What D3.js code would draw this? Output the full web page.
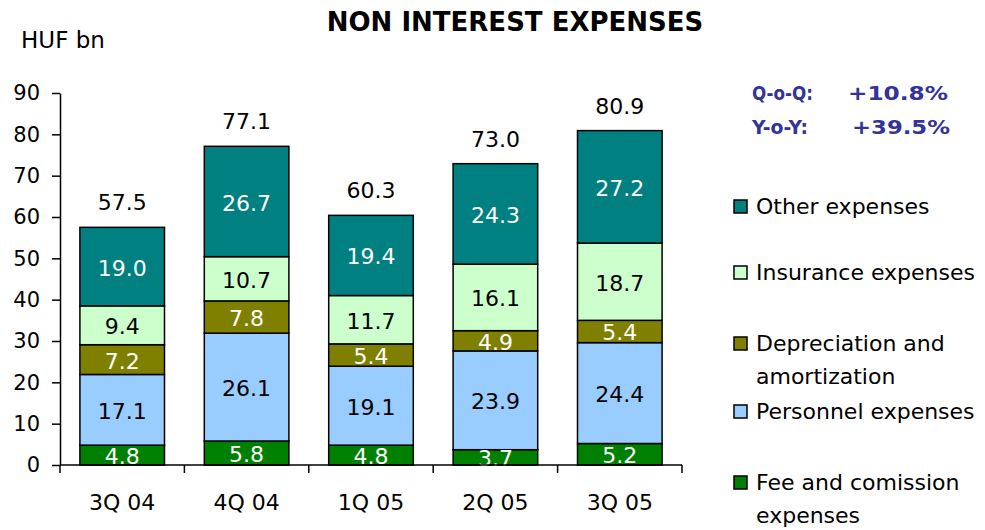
<!DOCTYPE html>
<html>
<head>
<meta charset="utf-8">
<script src="https://cdn.jsdelivr.net/npm/d3@7"></script>
<style>
  body { margin: 0; background: #fff; }
  text { font-family: "DejaVu Sans", Verdana, sans-serif; }
</style>
</head>
<body>
<script>
// chart size
const width = 985, height = 530;
const margin = { top: 93, right: 303, bottom: 65, left: 60 };

// data
const quarters = ["3Q 04", "4Q 04", "1Q 05", "2Q 05", "3Q 05"];
const feeExp = [4.8, 5.8, 4.8, 3.7, 5.2];
const personnelExp = [17.1, 26.1, 19.1, 23.9, 24.4];
const deprecExp = [7.2, 7.8, 5.4, 4.9, 5.4];
const insuranceExp = [9.4, 10.7, 11.7, 16.1, 18.7];
const otherExp = [19.0, 26.7, 19.4, 24.3, 27.2];
const totals = ["57.5", "77.1", "60.3", "73.0", "80.9"];
const yTicks = [0, 10, 20, 30, 40, 50, 60, 70, 80, 90];

const seriesNames = ["Fee and comission expenses", "Personnel expenses", "Depreciation and amortization", "Insurance expenses", "Other expenses"];
const seriesValues = [feeExp, personnelExp, deprecExp, insuranceExp, otherExp];
const colors = ["#008000", "#99ccff", "#808000", "#ccffcc", "#008080"];
const labelColors = ["#fff", "#000", "#fff", "#000", "#fff"];

const svg = d3.select("body").append("svg")
  .attr("width", width)
  .attr("height", height);

// title
svg.append("text")
  .attr("x", 515).attr("y", 31)
  .attr("text-anchor", "middle")
  .attr("font-size", 26).attr("font-weight", "bold")
  .text("NON INTEREST EXPENSES");

svg.append("text")
  .attr("x", 21).attr("y", 48)
  .attr("font-size", 23)
  .text("HUF bn");

// scales
const x = d3.scaleBand()
  .domain(quarters)
  .range([margin.left, width - margin.right])
  .paddingInner(0.32)
  .paddingOuter(0.16);

const y = d3.scaleLinear()
  .domain([0, 90])
  .range([height - margin.bottom, margin.top]);

// build stacked table
const table = quarters.map((q, i) => {
  const row = { quarter: q };
  seriesNames.forEach((s, j) => row[s] = seriesValues[j][i]);
  return row;
});
const stacked = d3.stack().keys(seriesNames)(table);

// bars
const layers = svg.selectAll("g.layer")
  .data(stacked)
  .enter().append("g")
  .attr("class", "layer")
  .attr("fill", (d, i) => colors[i]);

layers.selectAll("rect")
  .data(d => d)
  .enter().append("rect")
  .attr("x", d => x(d.data.quarter))
  .attr("y", d => y(d[1]))
  .attr("width", x.bandwidth())
  .attr("height", d => y(d[0]) - y(d[1]))
  .attr("stroke", "#000")
  .attr("stroke-width", 1.5);

// segment labels
stacked.forEach((layer, i) => {
  svg.selectAll(null)
    .data(layer)
    .enter().append("text")
    .attr("x", d => x(d.data.quarter) + x.bandwidth() / 2)
    .attr("y", d => (y(d[0]) + y(d[1])) / 2 + 9)
    .attr("text-anchor", "middle")
    .attr("font-size", 22)
    .attr("fill", labelColors[i])
    .text(d => (d[1] - d[0]).toFixed(1));
});

// total labels
const topLayer = stacked[stacked.length - 1];
svg.selectAll(null)
  .data(topLayer)
  .enter().append("text")
  .attr("x", d => x(d.data.quarter) + x.bandwidth() / 2)
  .attr("y", d => y(d[1]) - 17)
  .attr("text-anchor", "middle")
  .attr("font-size", 22)
  .text((d, i) => totals[i]);

// y axis
const yAxis = svg.append("g")
  .attr("transform", `translate(${margin.left},0)`)
  .call(d3.axisLeft(y).tickValues(yTicks).tickSize(8).tickPadding(12).tickSizeOuter(0));
yAxis.selectAll("text").attr("font-size", 21).attr("font-family", "DejaVu Sans").attr("fill", "#000");
yAxis.select(".domain").attr("stroke-width", 1.5);
yAxis.selectAll(".tick line").attr("stroke-width", 1.5);

// x axis with ticks at category boundaries
const xg = svg.append("g")
  .attr("transform", `translate(0,${height - margin.bottom})`);
xg.append("line")
  .attr("x1", margin.left).attr("x2", width - margin.right)
  .attr("stroke", "#000").attr("stroke-width", 1.5);
const step = x.step();
const bounds = d3.range(quarters.length + 1).map(i => margin.left + i * step);
xg.selectAll("line.tick")
  .data(bounds)
  .enter().append("line")
  .attr("class", "tick")
  .attr("x1", d => d).attr("x2", d => d)
  .attr("y1", 0).attr("y2", 8)
  .attr("stroke", "#000").attr("stroke-width", 1.5);
xg.selectAll("text")
  .data(quarters)
  .enter().append("text")
  .attr("x", d => x(d) + x.bandwidth() / 2)
  .attr("y", 45)
  .attr("text-anchor", "middle")
  .attr("font-size", 22)
  .text(d => d);

// growth figures
const growth = [["Q-o-Q:", 61, "+10.8%", 848, 100], ["Y-o-Y:", 56, "+39.5%", 852, 98]];
growth.forEach((g, i) => {
  const t = svg.append("text")
    .attr("y", 100 + i * 34)
    .attr("font-size", 20).attr("font-weight", "bold")
    .attr("fill", "#333399");
  t.append("tspan").attr("x", 752)
    .attr("textLength", g[1]).attr("lengthAdjust", "spacingAndGlyphs").text(g[0]);
  t.append("tspan").attr("x", g[3])
    .attr("textLength", g[4]).attr("lengthAdjust", "spacingAndGlyphs").text(g[2]);
});

// legend
const legendItems = [
  { lines: ["Other expenses"], y: 206, c: 4 },
  { lines: ["Insurance expenses"], y: 272, c: 3 },
  { lines: ["Depreciation and", "amortization"], y: 343, c: 2 },
  { lines: ["Personnel expenses"], y: 411, c: 1 },
  { lines: ["Fee and comission", "expenses"], y: 482, c: 0 }
];
const lg = svg.selectAll("g.legend")
  .data(legendItems)
  .enter().append("g")
  .attr("class", "legend");
lg.append("rect")
  .attr("x", 734).attr("y", d => d.y - 6)
  .attr("width", 13).attr("height", 13)
  .attr("fill", d => colors[d.c])
  .attr("stroke", "#000").attr("stroke-width", 1.5);
lg.each(function(d) {
  d3.select(this).selectAll("text")
    .data(d.lines)
    .enter().append("text")
    .attr("x", 756)
    .attr("y", (l, k) => d.y + 8 + k * 33)
    .attr("font-size", 22)
    .text(l => l);
});
</script>
</body>
</html>
